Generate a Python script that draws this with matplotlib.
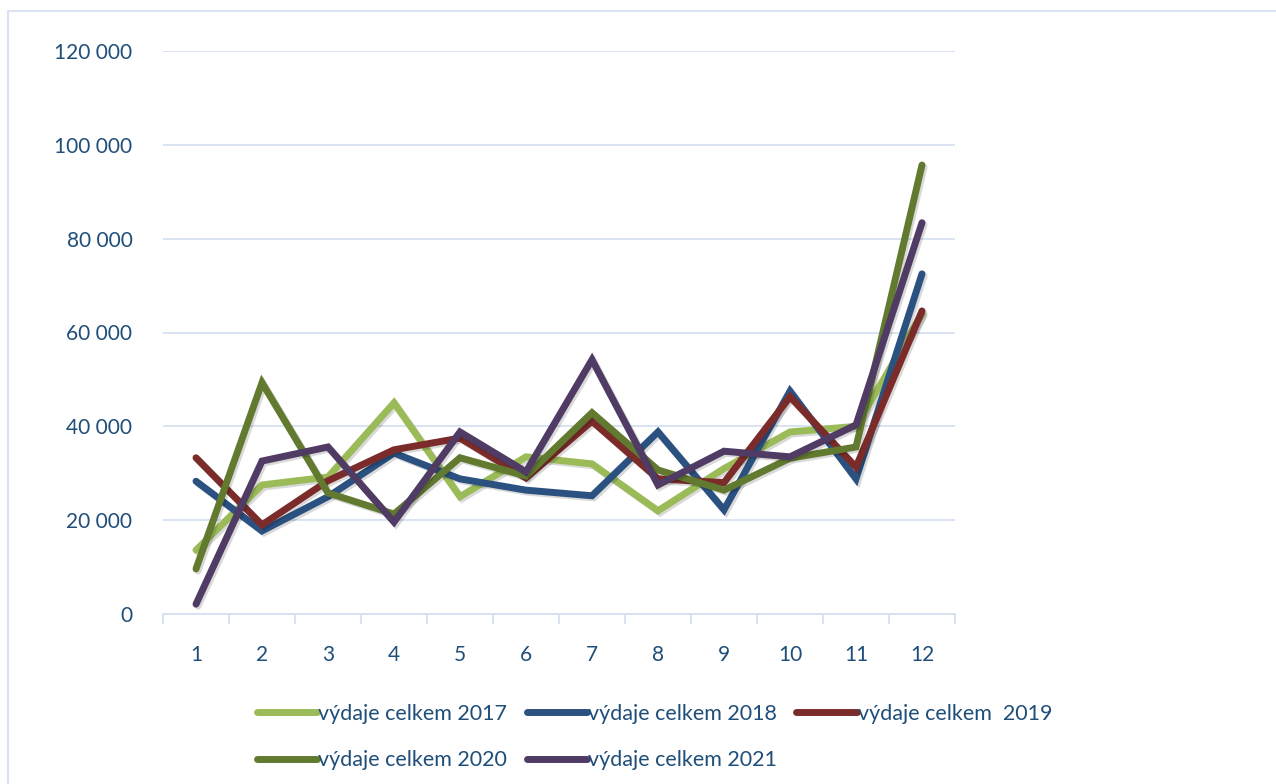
import numpy as np
import matplotlib.pyplot as plt
import matplotlib.patheffects as pe
from matplotlib.patches import Rectangle
from matplotlib.ticker import FuncFormatter

# mesice a vydaje celkem za jednotlive roky
mesice = np.arange(1, 13)
vydaje_2017 = [13600, 27500, 29200, 45000, 25000, 33500, 32000, 22000, 31000, 38800, 40000, 64000]
vydaje_2018 = [28300, 17700, 25000, 34300, 28800, 26400, 25200, 38800, 22200, 47500, 28800, 72500]
vydaje_2019 = [33300, 19000, 28400, 35000, 37500, 29000, 41100, 28800, 28000, 46300, 31300, 64600]
vydaje_2020 = [9600, 49300, 25800, 21300, 33300, 29400, 42900, 30700, 26400, 33200, 35600, 95700]
vydaje_2021 = [2100, 32600, 35600, 19600, 38800, 30300, 54200, 27500, 34700, 33500, 40300, 83400]

nazvy = ['výdaje celkem 2017', 'výdaje celkem 2018', 'výdaje celkem  2019',
         'výdaje celkem 2020', 'výdaje celkem 2021']
barvy = ['#9BBB59', '#2A5180', '#7B2C2A', '#627A30', '#4F3B63']
rady = [vydaje_2017, vydaje_2018, vydaje_2019, vydaje_2020, vydaje_2021]

plt.rcParams['font.family'] = ['Lato', 'DejaVu Sans']
text_barva = '#1F4E79'
mrizka = '#D6E0F0'

fig = plt.figure(figsize=(12.76, 7.84), dpi=100)
ax = fig.add_axes([163/1276, 170/784, 792/1276, 563/784])

# ramecek grafu
fig.patches.append(Rectangle((8/1276, -0.1), 1.2, (784-11)/784 + 0.1,
                             transform=fig.transFigure, fill=False,
                             edgecolor='#DAE3F3', linewidth=1.5))

cary = []
for hodnoty, nazev, barva in zip(rady, nazvy, barvy):
    c, = ax.plot(mesice, hodnoty, color=barva, linewidth=5, label=nazev,
                 solid_capstyle='round', solid_joinstyle='miter',
                 path_effects=[pe.SimpleLineShadow(offset=(1.5, -1.5), alpha=0.15), pe.Normal()])
    cary.append(c)

ax.set_xlim(0.5, 12.5)
ax.set_ylim(0, 120000)
ax.set_yticks(np.arange(0, 120001, 20000))
ax.yaxis.set_major_formatter(FuncFormatter(lambda v, p: f'{int(v):,}'.replace(',', ' ')))
ax.set_xticks(mesice)
ax.set_xticks(np.arange(0.5, 12.6, 1), minor=True)

ax.grid(axis='y', color=mrizka, linewidth=1.3)
ax.set_axisbelow(True)
for s in ['top', 'right', 'left']:
    ax.spines[s].set_visible(False)
ax.spines['bottom'].set_color(mrizka)
ax.spines['bottom'].set_linewidth(1.3)

ax.tick_params(axis='y', length=0, pad=22, labelsize=15, labelcolor=text_barva)
ax.tick_params(axis='x', which='major', length=0, pad=22, labelsize=15, labelcolor=text_barva)
ax.tick_params(axis='x', which='minor', length=7, width=1.3, color=mrizka)

# poradi po radcich: 2017 2018 2019 / 2020 2021
poradi = [0, 3, 1, 4, 2]
leg = fig.legend([cary[i] for i in poradi], [nazvy[i] for i in poradi],
                 loc='center', bbox_to_anchor=(0.513, 0.06), ncol=3, frameon=False,
                 fontsize=15.5, handlelength=2.8, handletextpad=0.05, columnspacing=0.9,
                 labelspacing=1.25)
for t in leg.get_texts():
    t.set_color(text_barva)
for h in leg.get_lines():
    h.set_linewidth(5)
    h.set_solid_capstyle('round')
    h.set_path_effects([])

fig.savefig('out.png', dpi=100)
